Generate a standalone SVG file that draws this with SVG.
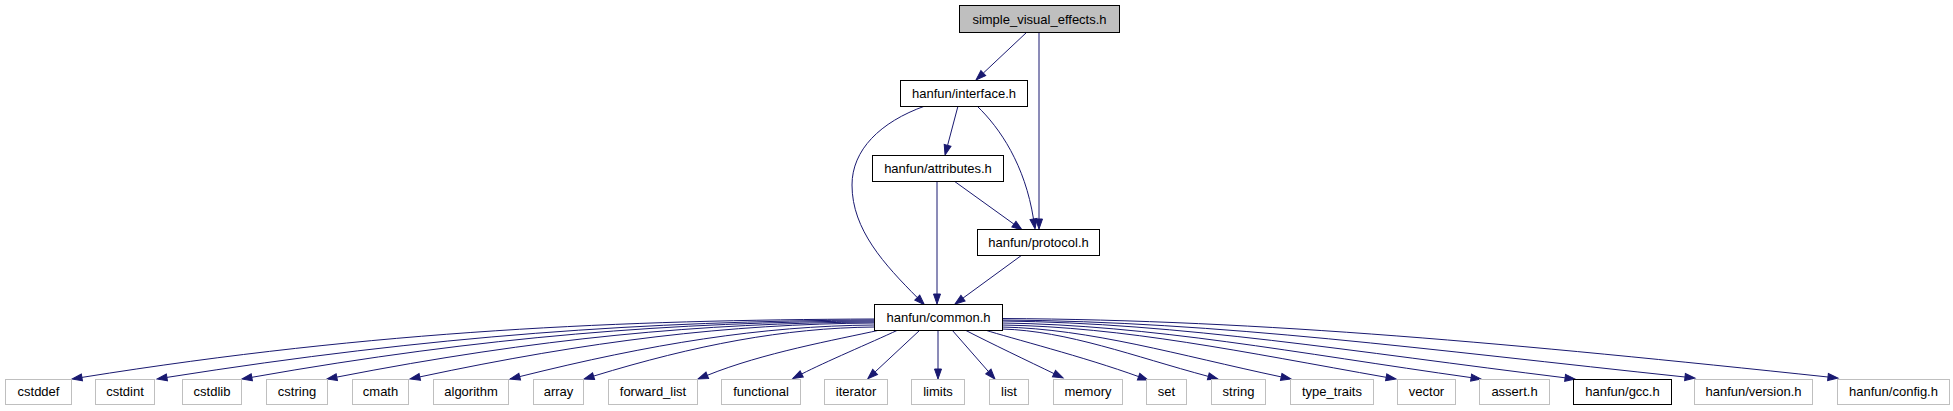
<svg xmlns="http://www.w3.org/2000/svg" width="1953" height="411" viewBox="0 0 1953 411">
<style>
.n rect{fill:#fff;stroke:#000;stroke-width:1}
.n.root rect{fill:#bfbfbf}
.n.ext rect{stroke:#bfbfbf}
.n text{font-family:"Liberation Sans",Helvetica,Arial,sans-serif;font-size:13px;text-anchor:middle;fill:#000}
.e path{fill:none;stroke:#191970;stroke-width:1;marker-end:url(#ah)}
</style>
<defs>
<marker id="ah" markerUnits="userSpaceOnUse" markerWidth="11" markerHeight="8" refX="0" refY="3.5" orient="auto" overflow="visible">
<path d="M0,0 L10,3.5 L0,7 z" fill="#191970" stroke="#191970" stroke-width="1"/>
</marker>
</defs>
<rect width="1953" height="411" fill="#fff"/>
<g id="edges" class="e">
<path d="M1027,32 L983.3,73.1"/>
<path d="M1039,32 L1039,219"/>
<path d="M958,106 L947.6,145.3"/>
<path d="M977,106 C1000,128 1025,165 1033.5,219"/>
<path d="M925,106 C880,122 852,150 852,185 C852,230 885,265 917.3,297.6"/>
<path d="M937,181 L937,294"/>
<path d="M954,181 L1013.9,224.1"/>
<path d="M1022,255 L963,298.1"/>
<path d="M874,319 C624,320 378,330 81.9,377.4"/>
<path d="M874,320 C648,321 432.6,335.4 166.9,377.4"/>
<path d="M874,321 C675,322 484.3,336.2 251.8,377.3"/>
<path d="M874,322 C702,323 537.1,338.1 336.8,377.1"/>
<path d="M874,323 C729,324 589,340.9 419.8,376.9"/>
<path d="M874,325 C761,326 650.7,343.9 519.7,376.6"/>
<path d="M874,327 C784,328 694.9,345.1 593.6,376.1"/>
<path d="M880,330 C835,340 762.9,352.8 707.3,375.3"/>
<path d="M898,330 C870,343 825,362 801.7,374"/>
<path d="M920,330 L875.1,371.9"/>
<path d="M938,330 L938,369"/>
<path d="M952,330 L988.4,371.5"/>
<path d="M965,330 C990,343 1030,362 1054,373.6"/>
<path d="M985,330 C1010,338 1084,356.8 1138.6,376.6"/>
<path d="M1002,329 C1068,331 1133,356.2 1208.3,376.4"/>
<path d="M1002,327 C1091,329 1177.5,354.9 1281.2,376.9"/>
<path d="M1002,325 C1125,327 1242.4,351.9 1386.2,377.3"/>
<path d="M1002,323 C1152,325 1294.8,352.8 1471.1,377.6"/>
<path d="M1002,321 C1182,323 1352.6,351.7 1565.1,377.8"/>
<path d="M1002,320 C1221,321.5 1426.3,349.7 1685,377"/>
<path d="M1002,318.5 C1266,320 1515.6,344 1828,377"/>
</g>
<g id="node_sve" class="n root"><rect x="959.5" y="5.5" width="160" height="27"/><text x="1039.5" y="23.5">simple_visual_effects.h</text></g>
<g id="node_interface" class="n"><rect x="900.5" y="80.5" width="127" height="26"/><text x="964" y="98">hanfun/interface.h</text></g>
<g id="node_attributes" class="n"><rect x="872.5" y="155.5" width="131" height="26"/><text x="938" y="173">hanfun/attributes.h</text></g>
<g id="node_protocol" class="n"><rect x="977.5" y="229.5" width="122" height="26"/><text x="1038.5" y="247">hanfun/protocol.h</text></g>
<g id="node_common" class="n"><rect x="874.5" y="304.5" width="128" height="26"/><text x="938.5" y="322">hanfun/common.h</text></g>
<g id="node_cstddef" class="n ext"><rect x="5.5" y="379.5" width="66" height="25"/><text x="38.5" y="396">cstddef</text></g>
<g id="node_cstdint" class="n ext"><rect x="95.5" y="379.5" width="59" height="25"/><text x="125" y="396">cstdint</text></g>
<g id="node_cstdlib" class="n ext"><rect x="182.5" y="379.5" width="59" height="25"/><text x="212" y="396">cstdlib</text></g>
<g id="node_cstring" class="n ext"><rect x="266.5" y="379.5" width="61" height="25"/><text x="297" y="396">cstring</text></g>
<g id="node_cmath" class="n ext"><rect x="352.5" y="379.5" width="56" height="25"/><text x="380.5" y="396">cmath</text></g>
<g id="node_algorithm" class="n ext"><rect x="433.5" y="379.5" width="75" height="25"/><text x="471" y="396">algorithm</text></g>
<g id="node_array" class="n ext"><rect x="533.5" y="379.5" width="50" height="25"/><text x="558.5" y="396">array</text></g>
<g id="node_forward_list" class="n ext"><rect x="608.5" y="379.5" width="89" height="25"/><text x="653" y="396">forward_list</text></g>
<g id="node_functional" class="n ext"><rect x="721.5" y="379.5" width="79" height="25"/><text x="761" y="396">functional</text></g>
<g id="node_iterator" class="n ext"><rect x="824.5" y="379.5" width="63" height="25"/><text x="856" y="396">iterator</text></g>
<g id="node_limits" class="n ext"><rect x="911.5" y="379.5" width="53" height="25"/><text x="938" y="396">limits</text></g>
<g id="node_list" class="n ext"><rect x="989.5" y="379.5" width="39" height="25"/><text x="1009" y="396">list</text></g>
<g id="node_memory" class="n ext"><rect x="1053.5" y="379.5" width="69" height="25"/><text x="1088" y="396">memory</text></g>
<g id="node_set" class="n ext"><rect x="1146.5" y="379.5" width="40" height="25"/><text x="1166.5" y="396">set</text></g>
<g id="node_string" class="n ext"><rect x="1211.5" y="379.5" width="54" height="25"/><text x="1238.5" y="396">string</text></g>
<g id="node_type_traits" class="n ext"><rect x="1290.5" y="379.5" width="83" height="25"/><text x="1332" y="396">type_traits</text></g>
<g id="node_vector" class="n ext"><rect x="1397.5" y="379.5" width="58" height="25"/><text x="1426.5" y="396">vector</text></g>
<g id="node_assert" class="n ext"><rect x="1479.5" y="379.5" width="70" height="25"/><text x="1514.5" y="396">assert.h</text></g>
<g id="node_gcc" class="n"><rect x="1573.5" y="379.5" width="98" height="25"/><text x="1622.5" y="396">hanfun/gcc.h</text></g>
<g id="node_version" class="n ext"><rect x="1694.5" y="379.5" width="118" height="25"/><text x="1753.5" y="396">hanfun/version.h</text></g>
<g id="node_config" class="n ext"><rect x="1837.5" y="379.5" width="112" height="25"/><text x="1893.5" y="396">hanfun/config.h</text></g>
</svg>
